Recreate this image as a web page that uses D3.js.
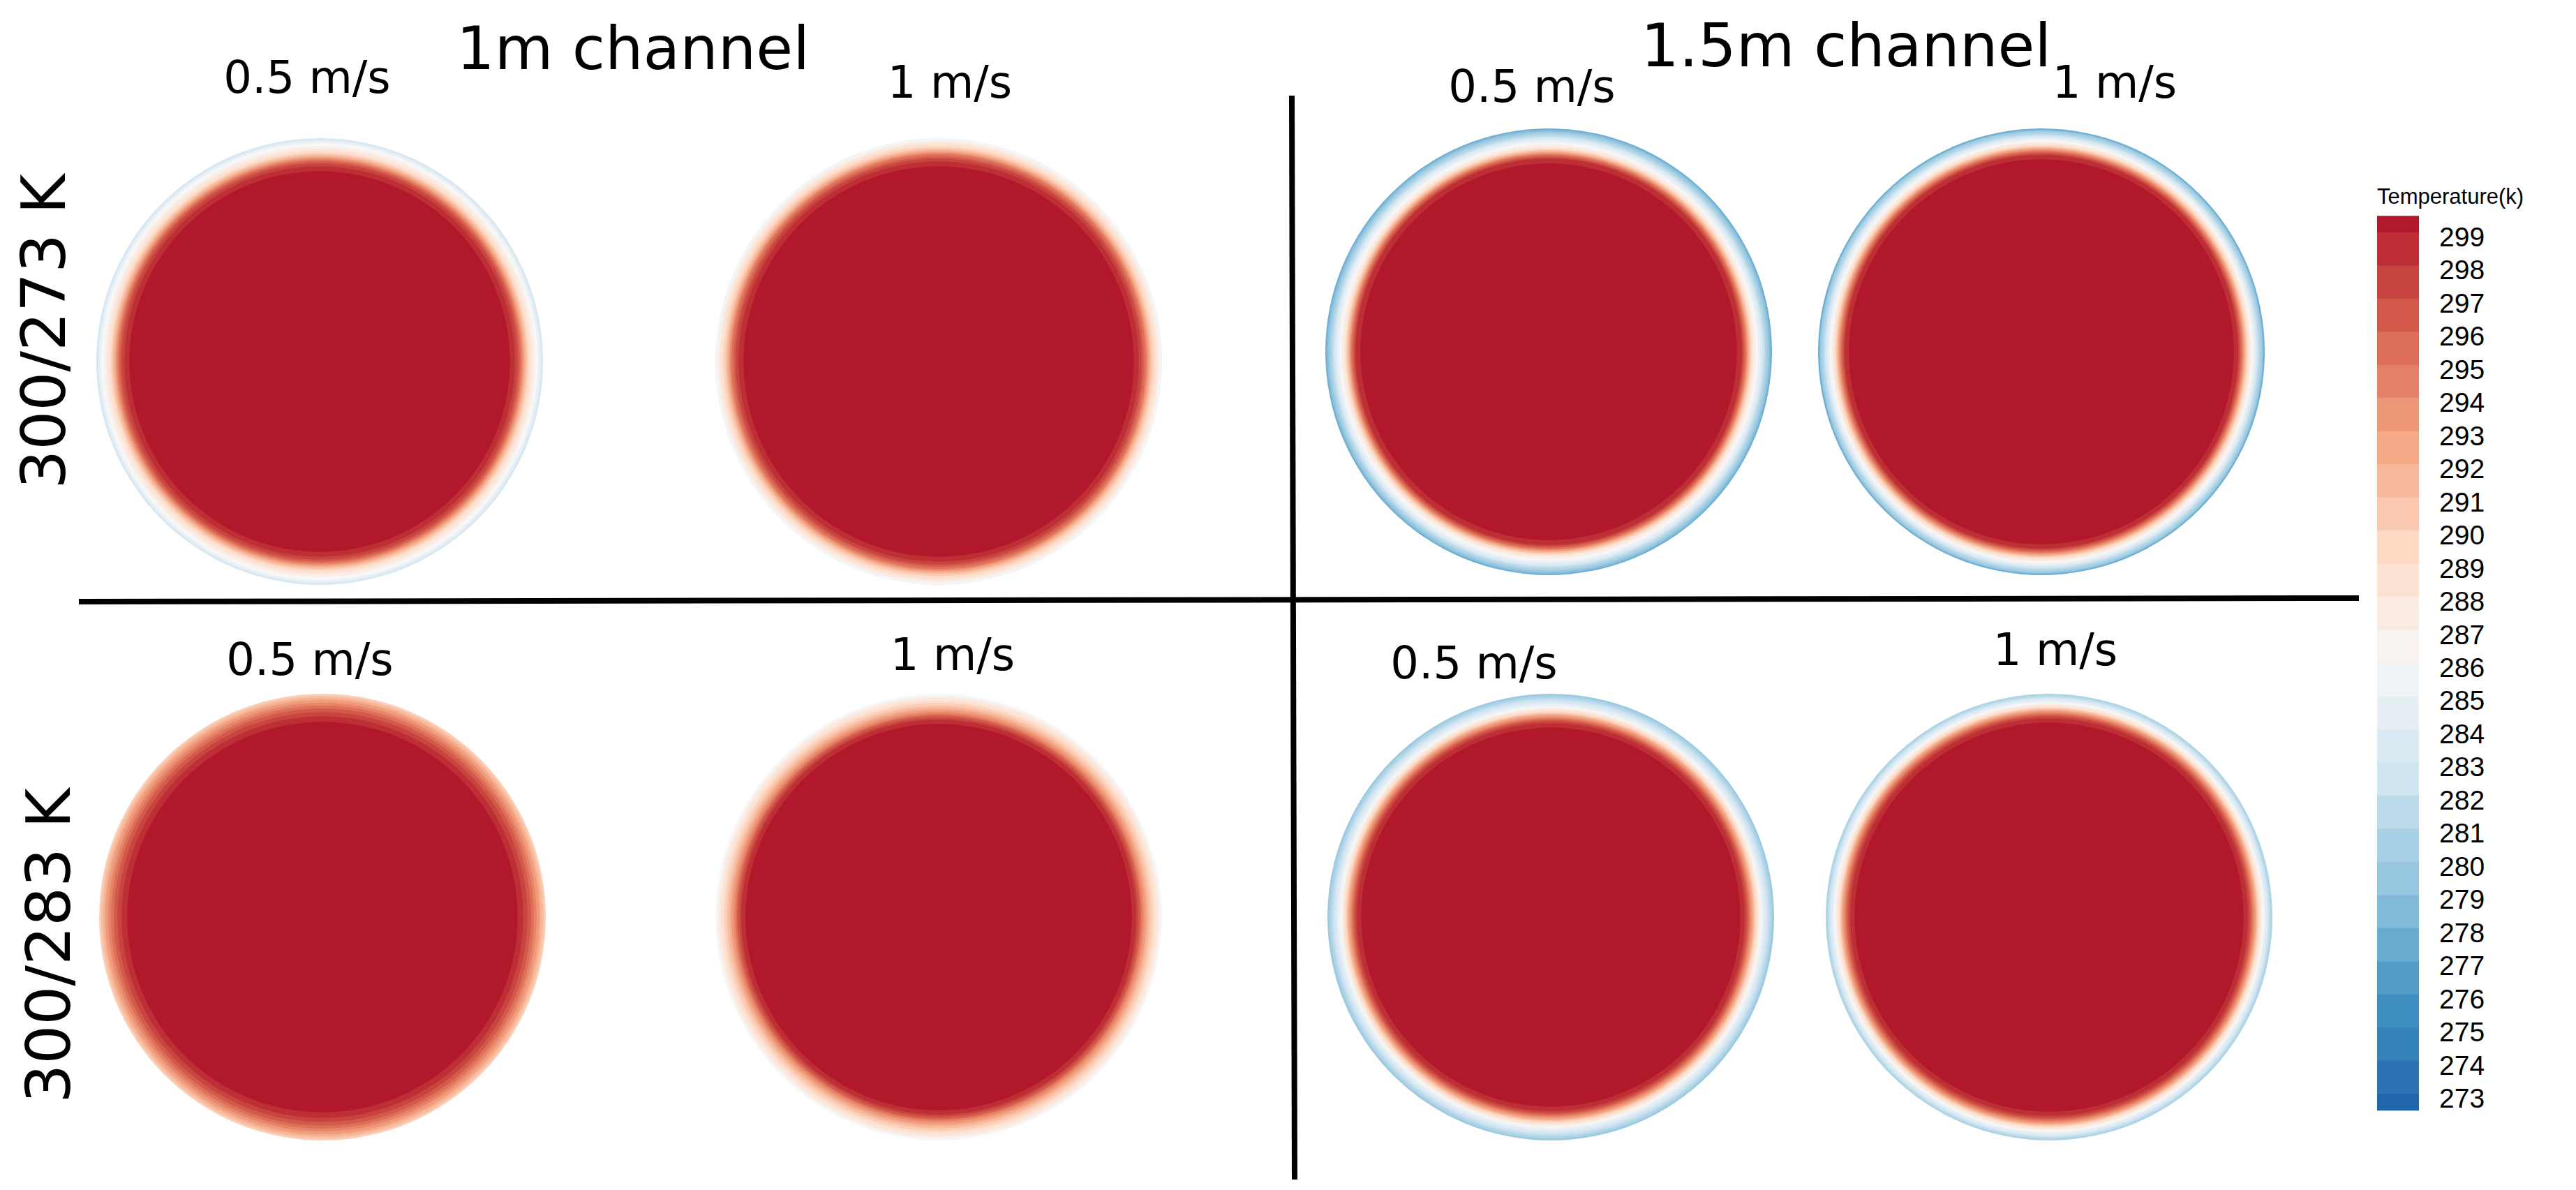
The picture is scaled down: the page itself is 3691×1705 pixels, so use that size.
<!DOCTYPE html>
<html>
<head>
<meta charset="utf-8">
<script src="https://cdn.jsdelivr.net/npm/d3@7"></script>
<style>
  body { margin: 0; background: #fff; }
  text { font-family: "DejaVu Sans", Verdana, sans-serif; fill: #000; }
  .legend text { font-family: "Liberation Sans", Arial, sans-serif; }
</style>
</head>
<body>
<svg id="mainsvg" width="3691" height="1705"></svg>
<script>
let svg = d3.select('#mainsvg');
var width = +svg.attr('width'), height = +svg.attr('height');

// ---- data ----
const channels = ['1m channel', '1.5m channel'];
const speeds = ['0.5 m/s', '1 m/s'];
const inlets = ['300/273 K', '300/283 K'];
const levels = [299, 298, 297, 296, 295, 294, 293, 292, 291, 290, 289, 288, 287, 286,
                285, 284, 283, 282, 281, 280, 279, 278, 277, 276, 275, 274, 273];
const paletteColors = ['#2166ac', '#4393c3', '#92c5de', '#d1e5f0', '#f7f7f7',
                       '#fddbc7', '#f4a582', '#d6604d', '#b2182b'];

// contour rings, wall inward: temperature level at the wall, then r/R where each level's band starts
const wall_273_1m_05 = 283;
const rings_273_1m_05 = [1.000, 0.994, 0.987, 0.978, 0.965, 0.953, 0.943, 0.934, 0.928,
                         0.921, 0.915, 0.909, 0.903, 0.896, 0.887, 0.874, 0.852];
const wall_273_1m_1 = 285;
const rings_273_1m_1 = [1.000, 0.997, 0.991, 0.981, 0.972, 0.962, 0.953, 0.947, 0.940,
                        0.934, 0.928, 0.918, 0.909, 0.896, 0.874];
const wall_273_15m_05 = 278;
const rings_273_15m_05 = [1.000, 0.994, 0.987, 0.978, 0.969, 0.962, 0.956, 0.947, 0.937,
                          0.928, 0.918, 0.912, 0.906, 0.903, 0.896, 0.893, 0.887, 0.884,
                          0.877, 0.871, 0.865, 0.843];
const wall_273_15m_1 = 278;
const rings_273_15m_1 = [1.000, 0.994, 0.991, 0.984, 0.975, 0.969, 0.962, 0.956, 0.947,
                         0.940, 0.934, 0.928, 0.921, 0.918, 0.912, 0.909, 0.903, 0.899,
                         0.893, 0.887, 0.881, 0.862];
const wall_283_1m_05 = 290;
const rings_283_1m_05 = [1.000, 0.991, 0.981, 0.972, 0.959, 0.947, 0.934, 0.918, 0.899, 0.874];
const wall_283_1m_1 = 286;
const rings_283_1m_1 = [1.000, 0.991, 0.981, 0.969, 0.959, 0.947, 0.937, 0.928, 0.918,
                        0.909, 0.903, 0.893, 0.884, 0.865];
const wall_283_15m_05 = 280;
const rings_283_15m_05 = [1.000, 0.991, 0.981, 0.972, 0.962, 0.953, 0.943, 0.937, 0.931,
                          0.925, 0.918, 0.912, 0.909, 0.903, 0.896, 0.890, 0.884, 0.877,
                          0.868, 0.849];
const wall_283_15m_1 = 281;
const rings_283_15m_1 = [1.000, 0.991, 0.984, 0.978, 0.969, 0.962, 0.956, 0.950, 0.943,
                         0.937, 0.934, 0.928, 0.925, 0.918, 0.912, 0.906, 0.899, 0.890, 0.871];

const cases = [
  {row: 0, col: 0, wall: wall_273_1m_05,  rings: rings_273_1m_05},
  {row: 0, col: 1, wall: wall_273_1m_1,   rings: rings_273_1m_1},
  {row: 0, col: 2, wall: wall_273_15m_05, rings: rings_273_15m_05},
  {row: 0, col: 3, wall: wall_273_15m_1,  rings: rings_273_15m_1},
  {row: 1, col: 0, wall: wall_283_1m_05,  rings: rings_283_1m_05},
  {row: 1, col: 1, wall: wall_283_1m_1,   rings: rings_283_1m_1},
  {row: 1, col: 2, wall: wall_283_15m_05, rings: rings_283_15m_05},
  {row: 1, col: 3, wall: wall_283_15m_1,  rings: rings_283_15m_1}
];

// ---- layout ----
const R = 320;
const cellPos = [
  [{cx: 458, cy: 518}, {cx: 1345, cy: 518}, {cx: 2219, cy: 504}, {cx: 2925, cy: 504}],
  [{cx: 462, cy: 1314}, {cx: 1345, cy: 1314}, {cx: 2222, cy: 1314}, {cx: 2936, cy: 1314}]
];
const speedLabelPos = [
  [{x: 440, y: 133}, {x: 1361, y: 140}, {x: 2195, y: 146}, {x: 3030, y: 140}],
  [{x: 444, y: 967}, {x: 1365, y: 960}, {x: 2112, y: 972}, {x: 2945, y: 953}]
];

const color = d3.scaleLinear()
  .domain(d3.range(paletteColors.length).map(i => 273 + i * 26 / (paletteColors.length - 1)))
  .range(paletteColors)
  .interpolate(d3.interpolateRgb);

const rScale = d3.scaleLinear().domain([0, 1]).range([0, R]);

svg.append('rect').attr('width', width).attr('height', height).attr('fill', '#fff');

// ---- contour discs ----
const discs = svg.selectAll('g.disc').data(cases)
  .enter().append('g')
  .attr('class', 'disc')
  .attr('transform', d => {
    const p = cellPos[d.row][d.col];
    return `translate(${p.cx},${p.cy})`;
  });

discs.selectAll('circle')
  .data(d => d.rings.map((r, i) => ({r: r, t: d.wall + i})))
  .enter().append('circle')
  .attr('r', d => rScale(d.r))
  .attr('fill', d => color(d.t));

// ---- speed labels ----
svg.selectAll('text.speed').data(cases)
  .enter().append('text')
  .attr('class', 'speed')
  .attr('x', d => speedLabelPos[d.row][d.col].x)
  .attr('y', d => speedLabelPos[d.row][d.col].y)
  .attr('text-anchor', 'middle')
  .attr('font-size', 64)
  .text(d => speeds[d.col % 2]);

// ---- channel titles ----
svg.selectAll('text.channel').data(channels)
  .enter().append('text')
  .attr('class', 'channel')
  .attr('x', (d, i) => [654, 2351][i])
  .attr('y', (d, i) => [99, 95][i])
  .attr('font-size', 86)
  .text(d => d);

// ---- inlet row labels ----
svg.selectAll('text.inlet').data(inlets)
  .enter().append('text')
  .attr('class', 'inlet')
  .attr('text-anchor', 'middle')
  .attr('transform', (d, i) => `translate(${[93, 100][i]},${[475, 1355][i]}) rotate(-90)`)
  .attr('font-size', 88)
  .text(d => d);

// ---- separators ----
svg.append('line')
  .attr('x1', 113).attr('y1', 862).attr('x2', 3380).attr('y2', 857)
  .attr('stroke', '#000').attr('stroke-width', 8);
svg.append('line')
  .attr('x1', 1851).attr('y1', 137).attr('x2', 1855).attr('y2', 1690)
  .attr('stroke', '#000').attr('stroke-width', 8);

// ---- colour bar ----
const legend = svg.append('g').attr('class', 'legend');
const yLeg = d3.scaleLinear().domain([299, 273]).range([333, 1567]);
const barX = 3406, barW = 60;
const step = 26 / 27;
const bands = [{y0: 299.5, y1: 299, t: 299}];
levels.slice(0, -1).forEach((v, j) => bands.push({y0: v, y1: v - 1, t: 299 - (j + 1) * step}));
bands.push({y0: 273, y1: 272.5, t: 273});

legend.selectAll('rect').data(bands)
  .enter().append('rect')
  .attr('x', barX)
  .attr('y', d => yLeg(d.y0))
  .attr('width', barW)
  .attr('height', d => yLeg(d.y1) - yLeg(d.y0) + 0.5)
  .attr('fill', d => color(d.t));

const axis = legend.append('g')
  .attr('transform', `translate(${barX + barW},7)`)
  .call(d3.axisRight(yLeg).tickValues(levels).tickSize(0).tickPadding(29));
axis.select('.domain').remove();
axis.selectAll('text')
  .attr('font-size', 39)
  .attr('font-family', '"Liberation Sans", Arial, sans-serif')
  .attr('fill', '#000');

legend.append('text')
  .attr('x', barX)
  .attr('y', 292)
  .attr('font-size', 31)
  .text('Temperature(k)');
</script>
</body>
</html>
